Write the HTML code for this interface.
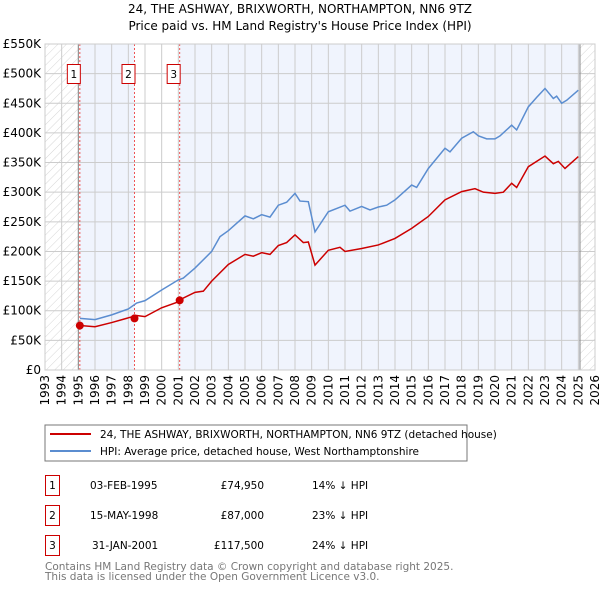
<!DOCTYPE html>
<html><head><meta charset="utf-8"><style>
body{margin:0;background:#fff;font-family:"DejaVu Sans","Liberation Sans",sans-serif;}
svg text{font-family:"DejaVu Sans","Liberation Sans",sans-serif;}
</style></head><body>
<svg id="c" width="600" height="590" viewBox="0 0 600 590" xmlns="http://www.w3.org/2000/svg">
<defs><pattern id="hatch" width="6" height="6" patternUnits="userSpaceOnUse" patternTransform="rotate(45)"><line x1="0" y1="0" x2="0" y2="6" stroke="#ccc" stroke-width="0.8"/></pattern></defs>
<text x="300" y="13" text-anchor="middle" font-size="12" fill="#000">24, THE ASHWAY, BRIXWORTH, NORTHAMPTON, NN6 9TZ</text>
<text x="300" y="30" text-anchor="middle" font-size="12" fill="#000">Price paid vs. HM Land Registry's House Price Index (HPI)</text>
<g id="plot"></g>
<rect x="45" y="425" width="422" height="36" fill="#fff" stroke="#777"/>
<line x1="50" y1="434" x2="91" y2="434" stroke="#cc0000" stroke-width="2"/>
<text x="100" y="438" font-size="10.5">24, THE ASHWAY, BRIXWORTH, NORTHAMPTON, NN6 9TZ (detached house)</text>
<line x1="50" y1="451" x2="91" y2="451" stroke="#5b8dd0" stroke-width="2"/>
<text x="100" y="455" font-size="10.5">HPI: Average price, detached house, West Northamptonshire</text>
<g font-size="10.5">
<rect x="45.5" y="475.5" width="14" height="20" fill="none" stroke="#cc0000"/><text x="52.5" y="489" text-anchor="middle">1</text>
<text x="90" y="489">03-FEB-1995</text><text x="264" y="489" text-anchor="end">£74,950</text><text x="312" y="489">14% ↓ HPI</text>
<rect x="45.5" y="505.5" width="14" height="20" fill="none" stroke="#cc0000"/><text x="52.5" y="519" text-anchor="middle">2</text>
<text x="90" y="519">15-MAY-1998</text><text x="264" y="519" text-anchor="end">£87,000</text><text x="312" y="519">23% ↓ HPI</text>
<rect x="45.5" y="535.5" width="14" height="20" fill="none" stroke="#cc0000"/><text x="52.5" y="549" text-anchor="middle">3</text>
<text x="92" y="549">31-JAN-2001</text><text x="264" y="549" text-anchor="end">£117,500</text><text x="312" y="549">24% ↓ HPI</text>
</g>
<text x="45" y="570" font-size="10.5" fill="#777">Contains HM Land Registry data © Crown copyright and database right 2025.</text>
<text x="45" y="580" font-size="10.5" fill="#777">This data is licensed under the Open Government Licence v3.0.</text>
</svg>
<script>
const yearTicks=[1993,1994,1995,1996,1997,1998,1999,2000,2001,2002,2003,2004,2005,2006,2007,2008,2009,2010,2011,2012,2013,2014,2015,2016,2017,2018,2019,2020,2021,2022,2023,2024,2025,2026];
const valueTicks=[0,50,100,150,200,250,300,350,400,450,500,550];
const valueLabels=["£0","£50K","£100K","£150K","£200K","£250K","£300K","£350K","£400K","£450K","£500K","£550K"];
const hpiDates=[1995.1,1996,1997,1998,1998.5,1999,2000,2001,2001.3,2002,2003,2003.5,2004,2005,2005.5,2006,2006.5,2007,2007.5,2008,2008.3,2008.8,2009.2,2010,2011,2011.3,2012,2012.5,2013,2013.5,2014,2015,2015.3,2016,2017,2017.3,2018,2018.7,2019,2019.5,2020,2020.3,2021,2021.3,2022,2022.5,2023,2023.5,2023.7,2024,2024.3,2025];
const hpiValues=[87,85,93,103,113,117,135,152,155,172,200,225,235,260,255,262,258,278,283,298,285,284,233,267,278,268,276,270,275,278,287,312,308,340,374,368,391,402,395,390,390,395,413,405,444,460,475,458,462,450,455,472];
const priceDates=[1995.1,1996,1997,1998,1998.5,1999,2000,2001,2001.2,2002,2002.5,2003,2004,2005,2005.5,2006,2006.5,2007,2007.5,2008,2008.5,2008.8,2009.2,2010,2010.7,2011,2012,2013,2014,2015,2016,2017,2018,2018.8,2019.3,2020,2020.5,2021,2021.3,2022,2023,2023.5,2023.8,2024.2,2025];
const priceValues=[75,73,80,88,92,90,105,115,120,131,133,150,178,195,192,198,195,210,215,228,215,216,177,202,207,200,205,211,222,239,259,287,301,306,300,298,300,315,308,343,361,348,352,340,360];
const saleDates=[1995.09,1998.37,2001.08];
const saleValues=[74.95,87,117.5];
const saleLabels=["1","2","3"];
const X0=45,X1=595,Y0=370,Y1=44,T0=1993,T1=2026,V1=550;
const xs=t=>X0+(t-T0)/(T1-T0)*(X1-X0);
const ys=v=>Y0-v/V1*(Y0-Y1);
const NS="http://www.w3.org/2000/svg";
const g=document.getElementById('plot');
function mk(tag,attrs,parent){const e=document.createElementNS(NS,tag);for(const k in attrs)e.setAttribute(k,attrs[k]);(parent||g).appendChild(e);return e;}
let e;
e=mk('rect',{x:xs(saleDates[0]),y:Y1,width:xs(saleDates[1])-xs(saleDates[0]),height:Y0-Y1,fill:'#f0f4fd'});


e=mk('rect',{x:xs(saleDates[2]),y:Y1,width:xs(2025.1)-xs(saleDates[2]),height:Y0-Y1,fill:'#f0f4fd'});


e=mk('rect',{x:X0,y:Y1,width:xs(1995)-X0,height:Y0-Y1,fill:'url(#hatch)'});


e=mk('rect',{x:xs(2025.1),y:Y1,width:X1-xs(2025.1),height:Y0-Y1,fill:'url(#hatch)'});


valueTicks.forEach((v,i)=>{
 e=mk('line',{x1:X0,x2:X1,y1:ys(v),y2:ys(v),stroke:'#ccc','stroke-width':1});
 
 
 e=mk('text',{x:X0-4,y:ys(v)+4,'text-anchor':'end','font-size':'12'});
 e.textContent=valueLabels[i];
 
 
});
yearTicks.forEach(t=>{
 e=mk('line',{x1:xs(t),x2:xs(t),y1:Y1,y2:Y0,stroke:'#ccc','stroke-width':1});
 
 
 e=mk('text',{x:0,y:0,'font-size':'12','text-anchor':'end',transform:`translate(${xs(t)+4},${Y0+5}) rotate(-90)`});
 e.textContent=t;
 
 
});
e=mk('line',{x1:xs(1995),x2:xs(1995),y1:Y1,y2:Y0,stroke:'#888'});


e=mk('line',{x1:xs(2025.1),x2:xs(2025.1),y1:Y1,y2:Y0,stroke:'#888'});


saleDates.forEach((d,i)=>{
 e=mk('line',{x1:xs(d),x2:xs(d),y1:Y1,y2:Y0,stroke:'#e55','stroke-dasharray':'2,2'});
 
 
 e=mk('rect',{x:xs(d)-12.5,y:64.5,width:13,height:19,fill:'#fff',stroke:'#cc0000'});
 
 
 e=mk('text',{x:xs(d)-6,y:78,'text-anchor':'middle','font-size':'10.5'});
 e.textContent=saleLabels[i];
 
 
});
e=mk('polyline',{points:hpiDates.map((d,i)=>xs(d)+','+ys(hpiValues[i])).join(' '),fill:'none',stroke:'#5b8dd0','stroke-width':1.5});


e=mk('polyline',{points:priceDates.map((d,i)=>xs(d)+','+ys(priceValues[i])).join(' '),fill:'none',stroke:'#cc0000','stroke-width':1.5});


saleDates.forEach((d,i)=>{
 e=mk('circle',{cx:xs(d),cy:ys(saleValues[i]),r:4,fill:'#cc0000'});
 
 
});
e=mk('rect',{x:X0,y:Y1,width:X1-X0,height:Y0-Y1,fill:'none',stroke:'#ccc'});


</script>
</body></html>
